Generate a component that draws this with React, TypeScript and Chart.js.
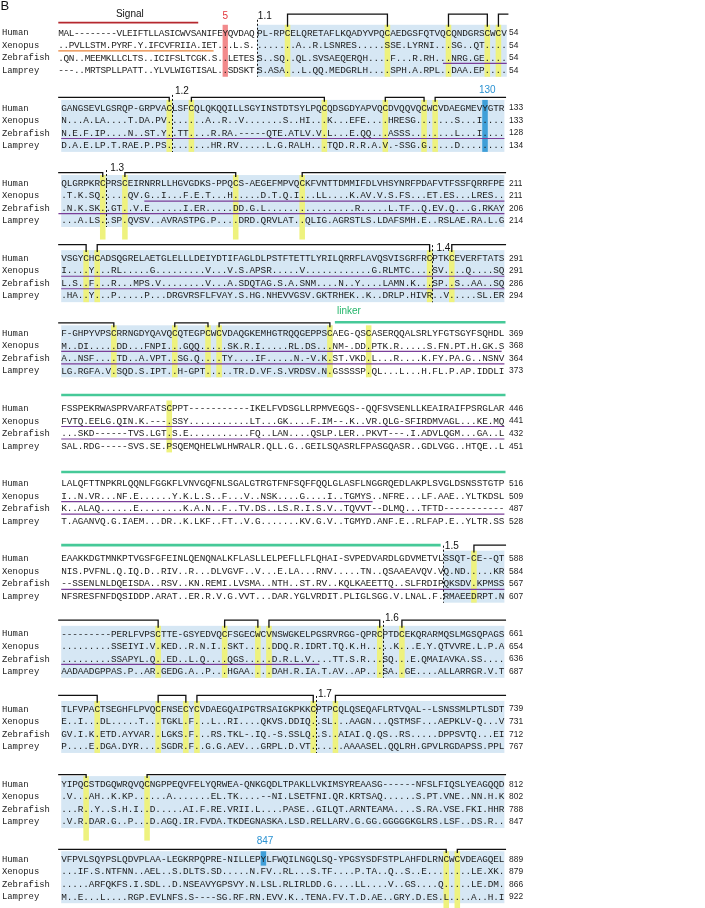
import React, { useEffect, useRef } from "react";
import { Chart, registerables } from "chart.js";

Chart.register(...registerables);

// ------------------------------------------------------------------ data
const SPECIES = ["Human", "Xenopus", "Zebrafish", "Lamprey"];

const HUMAN_SEQ = [
  "MAL--------VLEIFTLLASICWVSANIFEYQVDAQPL-RPCELQRETAFLKQADYVPQCAEDGSFQTVQCQNDGRSCWCV",
  "GANGSEVLGSRQP-GRPVACLSFCQLQKQQILLSGYINSTDTSYLPQCQDSGDYAPVQCDVQQVQCWCVDAEGMEVYGTR",
  "QLGRPKRCPRSCEIRNRRLLHGVGDKS-PPQCS-AEGEFMPVQCKFVNTTDMMIFDLVHSYNRFPDAFVTFSSFQRRFPE",
  "VSGYCHCADSQGRELAETGLELLLDEIYDTIFAGLDLPSTFTETTLYRILQRRFLAVQSVISGRFRCPTKCEVERFTATS",
  "F-GHPYVPSCRRNGDYQAVQCQTEGPCWCVDAQGKEMHGTRQQGEPPSCAEG-QSCASERQQALSRLYFGTSGYFSQHDL",
  "FSSPEKRWASPRVARFATSCPPT-----------IKELFVDSGLLRPMVEGQS--QQFSVSENLLKEAIRAIFPSRGLAR",
  "LALQFTTNPKRLQQNLFGGKFLVNVGQFNLSGALGTRGTFNFSQFFQQLGLASFLNGGRQEDLAKPLSVGLDSNSSTGTP",
  "EAAKKDGTMNKPTVGSFGFEINLQENQNALKFLASLLELPEFLLFLQHAI-SVPEDVARDLGDVMETVLSSQT-CE--QT",
  "---------PERLFVPSCTTE-GSYEDVQCFSGECWCVNSWGKELPGSRVRGG-QPRCPTDCEKQRARMQSLMGSQPAGS",
  "TLFVPACTSEGHFLPVQCFNSECYCVDAEGQAIPGTRSAIGKPKKCPTPCQLQSEQAFLRTVQAL--LSNSSMLPTLSDT",
  "YIPQCSTDGQWRQVQCNGPPEQVFELYQRWEA-QNKGQDLTPAKLLVKIMSYREAASG------NFSLFIQSLYEAGQQD",
  "VFPVLSQYPSLQDVPLAA-LEGKRPQPRE-NILLEPYLFWQILNGQLSQ-YPGSYSDFSTPLAHFDLRNCWCVDEAGQEL",
];
const XENOPUS_SEQ = [
  "..PVLLSTM.PYRF.Y.IFCVFRIIA.IET...L.S........A..R.LSNRES.....SSE.LYRNI...SG..QT....",
  "N...A.LA....T.DA.PV.......A..R..V.......S..HI...K...EFE....HRESG.......S...I....",
  ".T.K.SQ.....QV.G..I...F.E.T...H.....D.T.Q.I...LL....K.AV.V.S.FS...ET.ES...LRES..",
  "I....Y...RL.....G.........V...V.S.APSR.....V............G.RLMTC....SV....Q....SQ",
  "M..DI.....DD...FNPI...GQQ.....SK.R.I.....RL.DS...NM-.DD.PTK.R.....S.FN.PT.H.GK.S",
  "FVTQ.EELG.QIN.K.---.SSY...........LT...GK....F.IM--.K..VR.QLG-SFIRDMVAGL...KE.MQ",
  "I..N.VR...NF.E......Y.K.L.S..F...V..NSK....G....I..TGMYS..NFRE...LF.AAE..YLTKDSL",
  "NIS.PVFNL.Q.IQ.D..RIV..R...DLVGVF..V...E.LA...RNV.....TN..QSAAEAVQV.VQ.ND.....KR",
  ".........SSEIYI.V.KED..R.N.I..SKT.....DDQ.R.IDRT.TQ.K.H.....K...E.Y.QTVVRE.L.P.A",
  "E..I...DL.....T...TGKL.F...L..RI....QKVS.DDIQ..SL...AAGN...QSTMSF...AEPKLV-Q...V",
  ".V...AH..K.KP......A.......EL.TK....--NI.LSETFNI.QR.KRTSAQ......S.PT.VNE..NN.H.K",
  "...IF.S.NTFNN..AEL..S.DLTS.SD.....N.FV..RL...S.TF....P.TA..Q..S..E........LE.XK.",
];
const ZEBRAFISH_SEQ = [
  ".QN..MEEMKLLCLTS..ICIFSLTCGK.S..LETESS..SQ..QL.SVSAEQERQH....F...R.RH...NRG.GE....",
  "N.E.F.IP....N..ST.Y..TT....R.RA.-----QTE.ATLV.V.L...E.QQ...ASSS........L...I....",
  ".N.K.SK..GT..V.E......I.ER.....DD.G.L................R.....L.TF..Q.EV.Q...G.RKAY",
  "L.S..F...R...MPS.V........V...A.SDQTAG.S.A.SNM....N..Y....LAMN.K...SP..S..AA..SQ",
  "A..NSF....TD..A.VPT..SG.Q....TY....IF.....N.-V.K.ST.VKD.L...R....K.FY.PA.G..NSNV",
  "...SKD------TVS.LGT.S.E...........FQ..LAN....QSLP.LER..PKVT---.I.ADVLQGM...GA..L",
  "K..ALAQ......E........K.A.N..F..TV.DS..LS.R.I.S.V..TQVVT--DLMQ...TFTD-----------",
  "--SSENLNLDQEISDA..RSV..KN.REMI.LVSMA..NTH..ST.RV..KQLKAEETTQ..SLFRDIPQKSDV.KPMSS",
  ".........SSAPYL.Q..ED..L.Q....QGS.....D.R.L.V....TT.S.R...SQ...E.QMAIAVKA.SS....",
  "GV.I.K.ETD.AYVAR..LGKS.F...RS.TKL-.IQ.-S.SSLQ..S..AIAI.Q.QS..RS.....DPPSVTQ...EI",
  "...R..Y..S.H.I..D.....AI.F.RE.VRII.L....PASE..GILQT.ARNTEAMA....S.RA.VSE.FKI.HHR",
  ".....ARFQKFS.I.SDL..D.NSEAVYGPSVY.N.LSL.RLIRLDD.G....LL....V..GS....Q.....LE.DM.",
];
const LAMPREY_SEQ = [
  "---..MRTSPLLPATT..YLVLWIGTISAL..SDSKTS.ASA...L.QQ.MEDGRLH....SPH.A.RPL..DAA.EP....",
  "D.A.E.LP.T.RAE.P.PS........HR.RV.....L.G.RALH...TQD.R.R.A.V.-SSG.G.....D........",
  "...A.LS..SP.QVSV..AVRASTPG.P....DRD.QRVLAT..QLIG.AGRSTLS.LDAFSMH.E..RSLAE.RA.L.G",
  ".HA..Y...P.....P...DRGVRSFLFVAY.S.HG.NHEVVGSV.GKTRHEK..K..DRLP.HIVR..V.....SL.ER",
  "LG.RGFA.V.SQD.S.IPT..H-GPT.....TR.D.VF.S.VRDSV.N.GSSSSP.QL...L...H.FL.P.AP.IDDLI",
  "SAL.RDG-----SVS.SE.PSQEMQHELWLHWRALR.QLL.G..GEILSQASRLFPASGQASR..GDLVGG..HTQE..L",
  "T.AGANVQ.G.IAEM...DR..K.LKF..FT..V.G.......KV.G.V..TGMYD.ANF.E..RLFAP.E..YLTR.SS",
  "NFSRESFNFDQSIDDP.ARAT..ER.R.V.G.VVT...DAR.YGLVRDIT.PLIGLSGG.V.LNAL.F.RMAEEDRPT.N",
  "AADAADGPPAS.P..AR.GEDG.A..P...HGAA....DAH.R.IA.T.AV..AP...SA..GE....ALLARRGR.V.T",
  "P....E.DGA.DYR....SGDR.F..G.G.AEV...GRPL.D.VT......AAAASEL.QQLRH.GPVLRGDAPSS.PPL",
  ".V.R.DAR.G..P...D.AGQ.IR.FVDA.TKDEGNASKA.LSD.RELLARV.G.GG.GGGGGKGLRS.LSF..DS.R..",
  "M..E...L....RGP.EVLNFS.S----SG.RF.RN.EVV.K..TENA.FV.T.D.AE..GRY.D.ES.L....A..H.I",
];

const HUMAN_END = [54, 133, 211, 291, 369, 446, 516, 588, 661, 739, 812, 889];
const XENOPUS_END = [54, 133, 211, 291, 368, 441, 509, 584, 654, 731, 802, 879];
const ZEBRAFISH_END = [54, 128, 206, 286, 364, 432, 487, 567, 636, 712, 788, 866];
const LAMPREY_END = [54, 134, 214, 294, 373, 451, 528, 607, 687, 767, 847, 922];

// shaded (domain) column ranges per block [from, to)
const DOMAIN_COLS: (number[] | null)[] = [
  [37, 82], [0, 80], [0, 80], [0, 80], [0, 49], null, null, [69, 80], [0, 80], [0, 80], [0, 80], [0, 80],
];
// cysteine columns per block
const CYS_COLS = [
  [42, 60, 71, 78, 80], [19, 23, 47, 58, 65, 67], [7, 11, 31, 43], [4, 6, 66, 70],
  [9, 20, 26, 28, 48, 55], [19], [], [74], [17, 29, 35, 37, 57, 61], [6, 17, 22, 24, 45, 49], [4, 15], [69, 71],
];
// disulfide brackets per block: [fromCys, toCys]; null = open end
const BRACKETS: (number | null)[][][] = [
  [[42, 60], [71, 78], [80, null]],
  [[null, 19], [23, 47], [58, 65], [67, null]],
  [[null, 7], [11, 31], [43, null]],
  [[null, 4], [6, 66], [70, null]],
  [[null, 9], [20, 26], [28, 48]],
  [],
  [],
  [[74, null]],
  [[null, 17], [29, 35], [37, 57], [61, null]],
  [[null, 6], [17, 22], [24, 45], [49, null]],
  [[null, 4], [15, null]],
  [[null, 69], [71, null]],
];
// domain boundaries: [block, column]
const BOUNDARIES = [[0, 37], [1, 20], [2, 8], [3, 67], [7, 69], [8, 58], [9, 46]];
// highlighted residues: [block, column, firstRow, lastRow, kind]
const MARKED = [[0, 31, 0, 3, "red"], [1, 76, 0, 3, "blue"], [11, 36, 0, 0, "blue"]];
// underlined stretches: [block, speciesRow, fromCol, toCol, kind]
const UNDERLINES = [
  [0, 1, 0, 29.3, "orange"], [0, 2, 70.5, 82, "purple"],
  [1, 2, 0, 80, "purple"],
  [2, 1, 15, 80, "purple"], [2, 2, -0.5, 80, "purple"],
  [3, 1, 0, 80, "purple"], [3, 2, 0, 80, "purple"],
  [4, 1, 0, 79.5, "purple"], [4, 2, 0, 80, "purple"],
  [5, 1, 0, 80, "purple"], [5, 2, 0, 80, "purple"],
  [6, 1, 0, 56.2, "purple"], [6, 2, 0, 80, "purple"],
  [7, 2, 0, 80, "purple"],
  [8, 2, 0, 46.6, "purple"],
];
// linker bars: [block, rowOffset, fromCol, toCol]
const LINKER_BARS = [[4, -0.85, 49.4, 80.2], [5, -1.04, 0, 80.2], [6, -0.88, 0, 80.2], [7, -1.05, 0, 68.5]];
// signal-peptide bar: [block, rowOffset, fromCol, toCol]
const SIGNAL_BAR = [0, -0.77, 0, 26.4];
// annotations: [text, block, col, rowOffset, kind]
const ANNOTATIONS = [
  ["Signal", 0, 13.5, -1.46, "black"],
  ["5", 0, 31.5, -1.28, "red"],
  ["1.1", 0, 38.4, -1.3, "black"],
  ["1.2", 1, 21.8, -1.31, "black"],
  ["130", 1, 76.9, -1.39, "blue"],
  ["1.3", 2, 10.1, -1.17, "black"],
  ["1.4", 3, 69.0, -0.75, "black"],
  ["linker", 3, 51.95, 4.26, "green"],
  ["1.5", 7, 70.5, -0.97, "black"],
  ["1.6", 8, 59.7, -1.22, "black"],
  ["1.7", 9, 47.6, -1.16, "black"],
  ["847", 11, 36.8, -1.41, "blue"],
];
const PANEL_LETTER = "B";

// ------------------------------------------------------------------ layout / style
const W = 705;
const H = 908;
const CHAR_W = 5.54;
const SEQ_LEFT = 61.2;
const B1A_LEFT = 58.3;
const B1A_W = 5.3;
const B1B_LEFT = 51.65;
const B1B_W = 5.55;
const B1_SPLIT = 37;
const ROW_PITCH = 12.522;
const FIRST_ROW_Y = 32.3;
const ROWS_PER_BLOCK = 6;
const BAND_TOP = 0.6;
const BAND_BOT = 0.55;
const CYS_EXTEND = [0, 0, 1, 0, 0, 0, 0, 0, 0, 0, 1, 1.3];
const BRACKET_ROW = [-1.45, -0.8, -0.8, -1.05, -0.8, 0, 0, -1.05, -1.05, -1.05, -0.72, -0.75];
const UNDER_OFF = 0.48;
const LABEL_COL = -10.7;
const NUMBER_COL = 80.85;

const COLORS: Record<string, string> = {
  band: "#d6e7f4",
  cys: "#eef27e",
  red: "#f28a8c",
  blue: "#3f9fd8",
  purple: "#7a3d99",
  orange: "#e9843a",
  signal: "#b5282e",
  linker: "#46c998",
  text: "#1c1c1c",
  black: "#111111",
  labelRed: "#e2353b",
  labelBlue: "#2b92d2",
  labelGreen: "#22b56a",
};

const SEQS = [HUMAN_SEQ, XENOPUS_SEQ, ZEBRAFISH_SEQ, LAMPREY_SEQ];
const ENDS = [HUMAN_END, XENOPUS_END, ZEBRAFISH_END, LAMPREY_END];

const painter = {
  id: "alignmentPainter",
  afterDraw(chart: any) {
    const ctx: CanvasRenderingContext2D = chart.ctx;
    const ys = chart.scales.y;
    const Y = (v: number) => ys.getPixelForValue(v);
    const scaleFor = (b: number, c: number) =>
      b === 0 ? (c < B1_SPLIT ? chart.scales.xb1a : chart.scales.xb1b) : chart.scales.x;
    const X = (b: number, c: number, ref: number = c) => scaleFor(b, ref).getPixelForValue(c);

    ctx.save();
    ctx.fillStyle = "#ffffff";
    ctx.fillRect(0, 0, chart.width, chart.height);

    const nb = HUMAN_SEQ.length;
    for (let b = 0; b < nb; b++) {
      const base = b * ROWS_PER_BLOCK;
      const top = Y(base - BAND_TOP);
      const bot = Y(base + 3 + BAND_BOT);
      const dom = DOMAIN_COLS[b];
      if (dom) {
        const x0 = X(b, dom[0]);
        const x1 = X(b, dom[1], dom[0]);
        ctx.fillStyle = COLORS.band;
        ctx.fillRect(x0, top, x1 - x0, bot - top);
      }
      // cysteines
      const cbot = Y(base + 3 + BAND_BOT + CYS_EXTEND[b]);
      ctx.fillStyle = COLORS.cys;
      for (const c of CYS_COLS[b]) {
        const x0 = X(b, c);
        const x1 = X(b, c + 1, c);
        ctx.fillRect(x0, top, x1 - x0, cbot - top);
      }
    }

    // marked residues
    for (const m of MARKED) {
      const [b, c, r0, r1, kind] = m as [number, number, number, number, string];
      const base = b * ROWS_PER_BLOCK;
      const x0 = X(b, c);
      const x1 = X(b, c + 1, c);
      const t = Y(base + r0 - BAND_TOP);
      const bt = Y(base + r1 + BAND_BOT);
      ctx.fillStyle = COLORS[kind];
      ctx.fillRect(x0, t, x1 - x0, bt - t);
    }

    // underlines
    ctx.lineWidth = 1.2;
    for (const u of UNDERLINES) {
      const [b, s, c0, c1, kind] = u as [number, number, number, number, string];
      const y = Y(b * ROWS_PER_BLOCK + s + UNDER_OFF);
      ctx.strokeStyle = COLORS[kind];
      ctx.beginPath();
      ctx.moveTo(X(b, c0), y);
      ctx.lineTo(X(b, c1, c0), y);
      ctx.stroke();
    }

    // signal bar
    {
      const [b, dy, c0, c1] = SIGNAL_BAR;
      const y = Y(b * ROWS_PER_BLOCK + dy);
      ctx.strokeStyle = COLORS.signal;
      ctx.lineWidth = 1.6;
      ctx.beginPath();
      ctx.moveTo(X(b, c0), y);
      ctx.lineTo(X(b, c1, c0), y);
      ctx.stroke();
    }

    // linker bars
    ctx.strokeStyle = COLORS.linker;
    ctx.lineWidth = 2.6;
    for (const g of LINKER_BARS) {
      const [b, dy, c0, c1] = g;
      const y = Y(b * ROWS_PER_BLOCK + dy);
      ctx.beginPath();
      ctx.moveTo(X(b, c0), y);
      ctx.lineTo(X(b, c1, c0), y);
      ctx.stroke();
    }

    // domain boundaries (dashed)
    ctx.strokeStyle = COLORS.black;
    ctx.lineWidth = 1;
    ctx.setLineDash([2, 2]);
    for (const d of BOUNDARIES) {
      const [b, c] = d;
      const base = b * ROWS_PER_BLOCK;
      const x = Math.round(X(b, c)) + 0.5;
      ctx.beginPath();
      ctx.moveTo(x, Y(base - 1.0));
      ctx.lineTo(x, Y(base + 3 + BAND_BOT));
      ctx.stroke();
    }
    ctx.setLineDash([]);

    // disulfide brackets
    ctx.strokeStyle = COLORS.black;
    ctx.lineWidth = 1.3;
    for (let b = 0; b < nb; b++) {
      const base = b * ROWS_PER_BLOCK;
      const yb = Y(base + BRACKET_ROW[b]);
      const yt = Y(base - 0.45);
      const last = HUMAN_SEQ[b].length;
      for (const br of BRACKETS[b]) {
        const [a, c] = br;
        const xa = a === null ? X(b, -0.55) : X(b, a + 0.5, a);
        const xc = c === null ? X(b, last + 0.3, last) : X(b, c + 0.5, c);
        ctx.beginPath();
        if (a !== null) {
          ctx.moveTo(xa, yt);
          ctx.lineTo(xa, yb);
        } else {
          ctx.moveTo(xa, yb);
        }
        ctx.lineTo(xc, yb);
        if (c !== null) ctx.lineTo(xc, yt);
        ctx.stroke();
      }
    }

    // sequences
    ctx.textAlign = "center";
    ctx.textBaseline = "alphabetic";
    ctx.fillStyle = COLORS.text;
    ctx.font = '9.4px "Liberation Mono", monospace';
    for (let b = 0; b < nb; b++) {
      const base = b * ROWS_PER_BLOCK;
      for (let s = 0; s < 4; s++) {
        const seq = SEQS[s][b];
        const y = Y(base + s) + 3.2;
        for (let i = 0; i < seq.length; i++) {
          ctx.fillText(seq[i], X(b, i + 0.5, i), y);
        }
      }
    }

    // species labels
    ctx.textAlign = "left";
    ctx.font = '8.9px "Liberation Mono", monospace';
    for (let b = 0; b < nb; b++) {
      const base = b * ROWS_PER_BLOCK;
      for (let s = 0; s < 4; s++) {
        ctx.fillText(SPECIES[s], chart.scales.x.getPixelForValue(LABEL_COL), Y(base + s) + 3.1);
      }
    }

    // end numbers
    ctx.font = '8.4px "Liberation Sans", Arial, sans-serif';
    for (let b = 0; b < nb; b++) {
      const base = b * ROWS_PER_BLOCK;
      for (let s = 0; s < 4; s++) {
        ctx.fillText(String(ENDS[s][b]), chart.scales.x.getPixelForValue(NUMBER_COL), Y(base + s) + 3.0);
      }
    }

    // annotations
    ctx.textAlign = "center";
    ctx.textBaseline = "middle";
    ctx.font = '10px "Liberation Sans", Arial, sans-serif';
    const annColor: Record<string, string> = {
      black: COLORS.black, red: COLORS.labelRed, blue: COLORS.labelBlue, green: COLORS.labelGreen,
    };
    for (const a of ANNOTATIONS) {
      const [text, b, c, dy, kind] = a as [string, number, number, number, string];
      ctx.fillStyle = annColor[kind];
      ctx.fillText(text, X(b, c), Y(b * ROWS_PER_BLOCK + dy));
    }

    // panel letter
    ctx.textAlign = "left";
    ctx.fillStyle = COLORS.black;
    ctx.font = '13px "Liberation Sans", Arial, sans-serif';
    ctx.fillText(PANEL_LETTER, chart.scales.x.getPixelForValue(-10.95), Y(-2.08));

    ctx.restore();
  },
};

export default function App() {
  const ref = useRef<HTMLCanvasElement | null>(null);
  useEffect(() => {
    document.body.style.margin = "0";
    const canvas = ref.current;
    if (!canvas) return;
    const chart = new Chart(canvas, {
      type: "scatter",
      data: { datasets: [{ data: [], xAxisID: "x", yAxisID: "y" }] },
      options: {
        animation: false,
        responsive: false,
        devicePixelRatio: 1,
        events: [],
        layout: { padding: 0 },
        plugins: { legend: { display: false }, tooltip: { enabled: false } },
        scales: {
          x: { type: "linear", display: false, min: -SEQ_LEFT / CHAR_W, max: (W - SEQ_LEFT) / CHAR_W },
          xb1a: { type: "linear", axis: "x", display: false, min: -B1A_LEFT / B1A_W, max: (W - B1A_LEFT) / B1A_W },
          xb1b: { type: "linear", axis: "x", display: false, min: -B1B_LEFT / B1B_W, max: (W - B1B_LEFT) / B1B_W },
          y: {
            type: "linear", display: false, reverse: true,
            min: -FIRST_ROW_Y / ROW_PITCH, max: (H - FIRST_ROW_Y) / ROW_PITCH,
          },
        },
      } as any,
      plugins: [painter],
    });
    return () => chart.destroy();
  }, []);
  return (
    <div style={{ width: W, height: H, background: "#fff" }}>
      <canvas ref={ref} width={W} height={H} style={{ display: "block" }} />
    </div>
  );
}
